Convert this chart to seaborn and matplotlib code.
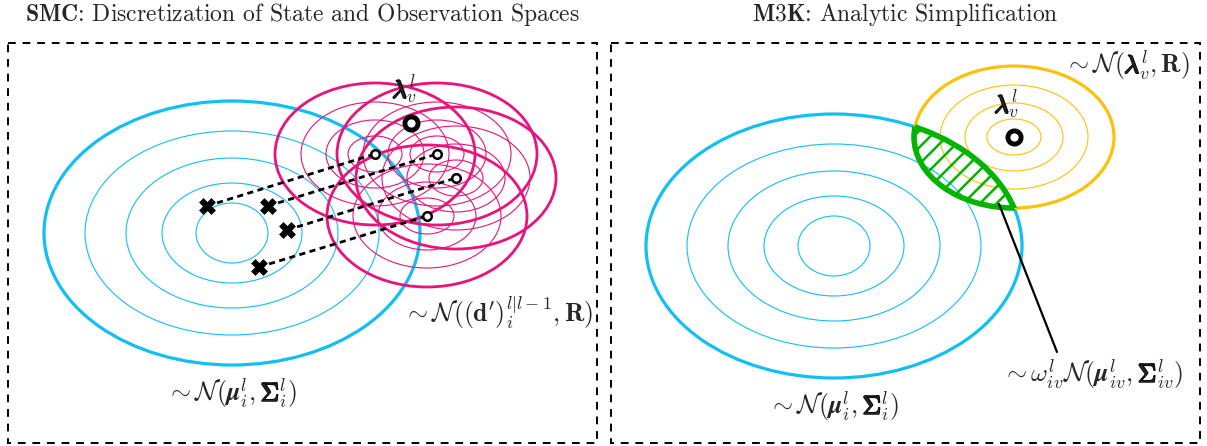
import numpy as np
import pandas as pd
import matplotlib
matplotlib.use("Agg")
import matplotlib.pyplot as plt
from matplotlib.patches import Ellipse, Rectangle
from matplotlib.transforms import Bbox
import matplotlib.patheffects as pe
import seaborn as sns

# ---- diagram data (canvas units, y grows downward) ----
panel_titles = [r"$\mathbf{SMC}$: Discretization of State and Observation Spaces",
                r"$\mathbf{M3K}$: Analytic Simplification"]
panel_left = [8, 611]
panel_right = [597, 1200]
panel_top, panel_bottom = 43, 443

# belief Gaussian contours (semi-axes of each ring, outer first)
belief_center_smc = (232, 233)
belief_center_m3k = (834, 246)
belief_rx = [188, 147, 106, 70, 36]
belief_ry = [132, 102, 75, 50, 30]

# observation-model contours (semi-axes of each ring, outer first)
obs_rx = [100, 74, 49, 27]
obs_ry = [71, 52, 34, 18]

# particles and their predicted measurements
particle_x = [207, 268, 287, 259]
particle_y = [206, 206, 230, 267]
meas_x = [375, 437, 456, 427]
meas_y = [154, 154, 178, 216]

# actual observation
lambda_smc = (411, 123)
lambda_m3k = (1014, 137)

BLUE = "#12BFF2"
PINK = "#E8137C"
ORANGE = "#FCC10A"
GREEN = "#00B400"

sns.set_theme(style="white")
plt.rcParams["mathtext.fontset"] = "cm"
plt.rcParams["hatch.linewidth"] = 1.8
plt.rcParams["axes.unicode_minus"] = False

fig = plt.figure(figsize=(12.07, 4.46), dpi=100)
ax = fig.add_axes([0, 0, 1, 1])
ax.set_xlim(0, 1207)
ax.set_ylim(446, 0)
ax.axis("off")
renderer = fig.canvas.get_renderer()


def rings(center, rxs, rys, color, thick, thin, z):
    for k, (rx, ry) in enumerate(zip(rxs, rys)):
        ax.add_patch(Ellipse(center, 2 * rx, 2 * ry, fill=False, ec=color,
                             lw=thick if k == 0 else thin, zorder=z))


def math_width(s, fs):
    if not s:
        return 0.0
    t = ax.text(0, 0, "$" + s + "$", fontsize=fs)
    w = t.get_window_extent(renderer).width
    t.remove()
    return w


def formula(x, y, segments, bold_idx, fs, ha="center"):
    """Draw a math label; segments listed in bold_idx are thickened."""
    full = "$" + "".join(segments) + "$"
    t = ax.text(x, y, full, ha=ha, va="baseline", fontsize=fs, zorder=7)
    bb = t.get_window_extent(renderer)
    x0_data = ax.transData.inverted().transform((bb.x0, bb.y0))[0]
    for i in bold_idx:
        pre = "".join(segments[:i])
        w1 = math_width(pre, fs)
        w2 = math_width(pre + segments[i], fs)
        o = ax.text(x0_data, y, "$" + pre + segments[i] + "$", ha="left",
                    va="baseline", fontsize=fs, zorder=8,
                    path_effects=[pe.withStroke(linewidth=1.1, foreground="black")])
        o.set_clip_on(True)
        o.set_clip_box(Bbox.from_extents(bb.x0 + w1 - 0.5, 0, bb.x0 + w2 + 0.5,
                                         fig.bbox.height))
    return t


# panel frames and titles
title_x = [302, 905]
for x0, x1, tx, title in zip(panel_left, panel_right, title_x, panel_titles):
    ax.add_patch(Rectangle((x0, panel_top), x1 - x0, panel_bottom - panel_top,
                           fill=False, ec="black", lw=1.4, ls=(0, (4, 3.5)), zorder=1))
    ax.text(tx, 14, title, ha="center", va="center", fontsize=17, family="cmr10")

mu_sigma = [r"\sim\mathcal{N}(", r"\boldsymbol{\mu}", r"_i^l,", r"\Sigma", r"_i^l)"]
lam = [r"\lambda", r"_v^l"]

# ---------------- SMC panel ----------------
rings(belief_center_smc, belief_rx, belief_ry, BLUE, 2.3, 0.8, 2)
for mx, my in zip(meas_x, meas_y):
    rings((mx, my), obs_rx, obs_ry, PINK, 2.0, 0.8, 3)

for px, py, mx, my in zip(particle_x, particle_y, meas_x, meas_y):
    ax.plot([px, mx], [py, my], color="black", lw=2.0, ls=(0, (2.2, 1.6)), zorder=4)

sns.scatterplot(x=particle_x, y=particle_y, marker="X", s=130, color="black",
                edgecolor="black", linewidth=0.5, ax=ax, zorder=5)
sns.scatterplot(x=meas_x, y=meas_y, marker="o", s=38, facecolor="white",
                edgecolor="black", linewidth=1.8, ax=ax, zorder=5)
sns.scatterplot(x=[lambda_smc[0]], y=[lambda_smc[1]], marker="o", s=90,
                facecolor="white", edgecolor="black", linewidth=3.5, ax=ax, zorder=6)

formula(lambda_smc[0] - 19, lambda_smc[1] - 25, lam, [0], 18, ha="left")
formula(belief_center_smc[0], 401, mu_sigma, [3], 18.5)
formula(498, 322, [r"\sim\mathcal{N}((\mathbf{d}')_i^{l|l-1},\mathbf{R})"], [], 18.5)

# ---------------- M3K panel ----------------
rings(belief_center_m3k, belief_rx, belief_ry, BLUE, 2.3, 0.8, 2)
rings(lambda_m3k, obs_rx, obs_ry, ORANGE, 2.3, 0.8, 2)

belief_outer = Ellipse(belief_center_m3k, 2 * belief_rx[0], 2 * belief_ry[0],
                       fill=False, ec="none", lw=0)
obs_outer = Ellipse(lambda_m3k, 2 * obs_rx[0], 2 * obs_ry[0],
                    fill=False, ec="none", lw=0)
ax.add_patch(belief_outer)
ax.add_patch(obs_outer)

# overlap region: hatched lens bounded by both outer contours
lens_a = Ellipse(lambda_m3k, 2 * obs_rx[0], 2 * obs_ry[0], fill=False,
                 ec=GREEN, lw=4.0, hatch="//", zorder=4)
ax.add_patch(lens_a)
lens_a.set_clip_path(belief_outer)
lens_b = Ellipse(belief_center_m3k, 2 * belief_rx[0], 2 * belief_ry[0], fill=False,
                 ec=GREEN, lw=4.0, zorder=4)
ax.add_patch(lens_b)
lens_b.set_clip_path(obs_outer)

ax.plot([999, 1057], [204, 352], color="black", lw=1.6, zorder=5)

sns.scatterplot(x=[lambda_m3k[0]], y=[lambda_m3k[1]], marker="o", s=90,
                facecolor="white", edgecolor="black", linewidth=3.5, ax=ax, zorder=6)
formula(lambda_m3k[0] - 20, lambda_m3k[1] - 24, lam, [0], 18, ha="left")
formula(1127, 73, [r"\sim\mathcal{N}(", r"\lambda", r"_v^l,\mathbf{R})"], [1], 18.5)
formula(1093, 382, [r"\sim\omega_{iv}^l\mathcal{N}(", r"\boldsymbol{\mu}", r"_{iv}^l,",
                    r"\Sigma", r"_{iv}^l)"], [3], 18.5)
formula(belief_center_m3k[0], 414, mu_sigma, [3], 18.5)

fig.savefig("out.png", dpi=100)
